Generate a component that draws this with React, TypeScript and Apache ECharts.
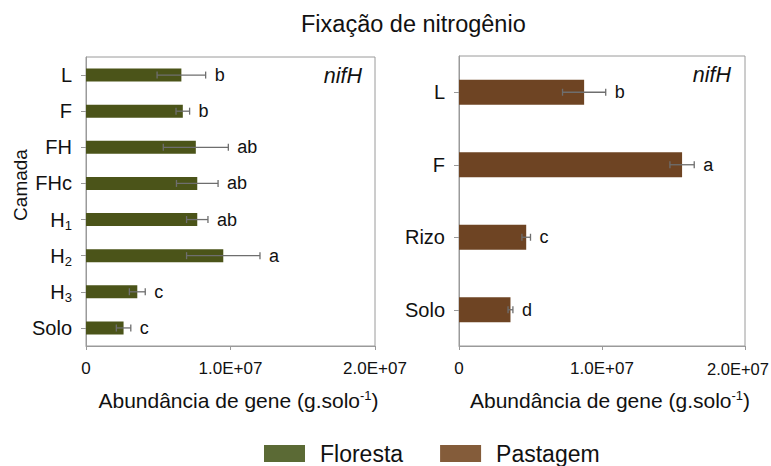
import React, { useEffect, useRef } from 'react';
import * as echarts from 'echarts';

// Floresta (forest) layers
const florestaLayers = ['L', 'F', 'FH', 'FHc', 'H1', 'H2', 'H3', 'Solo'];
const florestaMeans = [6.6e6, 6.7e6, 7.6e6, 7.7e6, 7.7e6, 9.5e6, 3.55e6, 2.6e6];
const florestaErrors = [1.68e6, 0.47e6, 2.25e6, 1.44e6, 0.74e6, 2.54e6, 0.55e6, 0.5e6];
const florestaLetters = ['b', 'b', 'ab', 'ab', 'ab', 'a', 'c', 'c'];

// Pastagem (pasture) layers
const pastagemLayers = ['L', 'F', 'Rizo', 'Solo'];
const pastagemMeans = [8.75e6, 15.6e6, 4.7e6, 3.6e6];
const pastagemErrors = [1.51e6, 0.85e6, 0.3e6, 0.17e6];
const pastagemLetters = ['b', 'a', 'c', 'd'];

const xTickLabels = ['0', '1.0E+07', '2.0E+07'];

const FONT = '"Liberation Sans", Arial, Helvetica, sans-serif';
const AXIS_GRAY = '#9a9a9a';
const ERR_GRAY = '#6e6e6e';
const FLORESTA_BAR = '#4b5419';
const PASTAGEM_BAR = '#6e4423';
const FLORESTA_KEY = '#5b6a35';
const PASTAGEM_KEY = '#845c3a';

const layerLabel = (v: string) => (/^H\d$/.test(v) ? `H{sub|${v[1]}}` : v);

// nudgeLast pulls the last tick label inward so it stays on the page
const xAxisFor = (gridIndex: number, nudgeLast: boolean) => ({
  type: 'value',
  gridIndex,
  min: 0,
  max: 2e7,
  interval: 1e7,
  axisLine: { show: true, lineStyle: { color: AXIS_GRAY, width: 1 } },
  axisTick: { show: true, length: 4, lineStyle: { color: AXIS_GRAY } },
  splitLine: { show: false },
  axisLabel: {
    margin: 14,
    fontSize: 17,
    color: '#111',
    fontFamily: FONT,
    formatter: (v: number) => {
      const idx = Math.round(v / 1e7);
      const txt = xTickLabels[idx];
      return nudgeLast && idx === xTickLabels.length - 1 ? `{edge|${txt}}` : txt;
    },
    rich: {
      edge: { fontSize: 16.5, color: '#111', fontFamily: FONT, padding: [0, 14, 0, 0] },
    },
  },
  name: 'Abundância de gene (g.solo{sup|-1})',
  nameLocation: 'middle',
  nameGap: 43,
  nameTextStyle: {
    fontSize: 21,
    color: '#111',
    fontFamily: FONT,
    padding: [0, 0, 0, 16],
    rich: {
      sup: { fontSize: 13, color: '#111', fontFamily: FONT, padding: [0, 0, 10, 0] },
    },
  },
});

const yAxisFor = (gridIndex: number, data: string[]) => ({
  type: 'category',
  gridIndex,
  inverse: true,
  data,
  axisLine: { show: true, lineStyle: { color: AXIS_GRAY, width: 1 } },
  axisTick: { show: true, alignWithLabel: true, length: 5, lineStyle: { color: AXIS_GRAY } },
  axisLabel: {
    margin: 14,
    fontSize: 20,
    color: '#111',
    fontFamily: FONT,
    formatter: layerLabel,
    rich: {
      sub: { fontSize: 13, color: '#111', fontFamily: FONT, padding: [11, 0, 0, 0] },
    },
  },
});

const errorSeries = (
  axisIndex: number,
  means: number[],
  errors: number[],
  letters: string[],
) => ({
  type: 'custom',
  xAxisIndex: axisIndex,
  yAxisIndex: axisIndex,
  z: 5,
  encode: { x: [0, 1], y: 2 },
  data: means.map((m, i) => [m - errors[i], m + errors[i], i]),
  renderItem: (params: any, api: any) => {
    const lo = api.coord([api.value(0), api.value(2)]);
    const hi = api.coord([api.value(1), api.value(2)]);
    const y = lo[1];
    const h = 3.5;
    const style = { stroke: ERR_GRAY, lineWidth: 1.3 };
    return {
      type: 'group',
      children: [
        { type: 'line', shape: { x1: lo[0], y1: y, x2: hi[0], y2: y }, style },
        { type: 'line', shape: { x1: lo[0], y1: y - h, x2: lo[0], y2: y + h }, style },
        { type: 'line', shape: { x1: hi[0], y1: y - h, x2: hi[0], y2: y + h }, style },
        {
          type: 'text',
          x: hi[0] + 9,
          y,
          style: {
            text: letters[params.dataIndex],
            fontSize: 18,
            fontFamily: FONT,
            fill: '#111',
            verticalAlign: 'middle',
            align: 'left',
          },
        },
      ],
    };
  },
});

export default function App() {
  const ref = useRef<HTMLDivElement>(null);

  useEffect(() => {
    if (!ref.current) return;
    const chart = echarts.init(ref.current, undefined, { renderer: 'svg' });
    chart.setOption({
      animation: false,
      backgroundColor: '#ffffff',
      title: {
        text: 'Fixação de nitrogênio',
        left: 301,
        top: 12,
        padding: 0,
        textStyle: { fontSize: 23.5, fontWeight: 'normal', color: '#111', fontFamily: FONT },
      },
      legend: {
        left: 264,
        top: 442,
        padding: 0,
        icon: 'rect',
        itemWidth: 41,
        itemHeight: 17,
        itemGap: 37,
        textStyle: { fontSize: 23, color: '#111', fontFamily: FONT, padding: [0, 0, 0, 10] },
        data: [
          { name: 'Floresta', itemStyle: { color: FLORESTA_KEY } },
          { name: 'Pastagem', itemStyle: { color: PASTAGEM_KEY } },
        ],
      },
      grid: [
        {
          left: 86, top: 57, width: 289, height: 289,
          show: true, borderColor: AXIS_GRAY, borderWidth: 1,
          outerBoundsMode: 'none',
        },
        {
          left: 459, top: 56, width: 286, height: 290,
          show: true, borderColor: AXIS_GRAY, borderWidth: 1,
          outerBoundsMode: 'none',
        },
      ],
      xAxis: [xAxisFor(0, false), xAxisFor(1, true)],
      yAxis: [yAxisFor(0, florestaLayers), yAxisFor(1, pastagemLayers)],
      graphic: [
        {
          type: 'text',
          x: 20,
          y: 185,
          rotation: Math.PI / 2,
          style: {
            text: 'Camada',
            fontSize: 19,
            fontFamily: FONT,
            fill: '#111',
            align: 'center',
            verticalAlign: 'middle',
          },
        },
        {
          type: 'text',
          x: 362,
          y: 76,
          style: {
            text: 'nifH',
            fontSize: 21.5,
            fontStyle: 'italic',
            fontFamily: FONT,
            fill: '#111',
            align: 'right',
            verticalAlign: 'middle',
          },
        },
        {
          type: 'text',
          x: 731,
          y: 75,
          style: {
            text: 'nifH',
            fontSize: 21.5,
            fontStyle: 'italic',
            fontFamily: FONT,
            fill: '#111',
            align: 'right',
            verticalAlign: 'middle',
          },
        },
      ],
      series: [
        {
          name: 'Floresta',
          type: 'bar',
          xAxisIndex: 0,
          yAxisIndex: 0,
          barWidth: 13,
          itemStyle: { color: FLORESTA_BAR },
          data: florestaMeans,
        },
        {
          name: 'Pastagem',
          type: 'bar',
          xAxisIndex: 1,
          yAxisIndex: 1,
          barWidth: 25,
          itemStyle: { color: PASTAGEM_BAR },
          data: pastagemMeans,
        },
        errorSeries(0, florestaMeans, florestaErrors, florestaLetters),
        errorSeries(1, pastagemMeans, pastagemErrors, pastagemLetters),
      ],
    });
    return () => chart.dispose();
  }, []);

  return (
    <div
      ref={ref}
      style={{ position: 'fixed', left: 0, top: 0, width: 771, height: 466 }}
    />
  );
}
